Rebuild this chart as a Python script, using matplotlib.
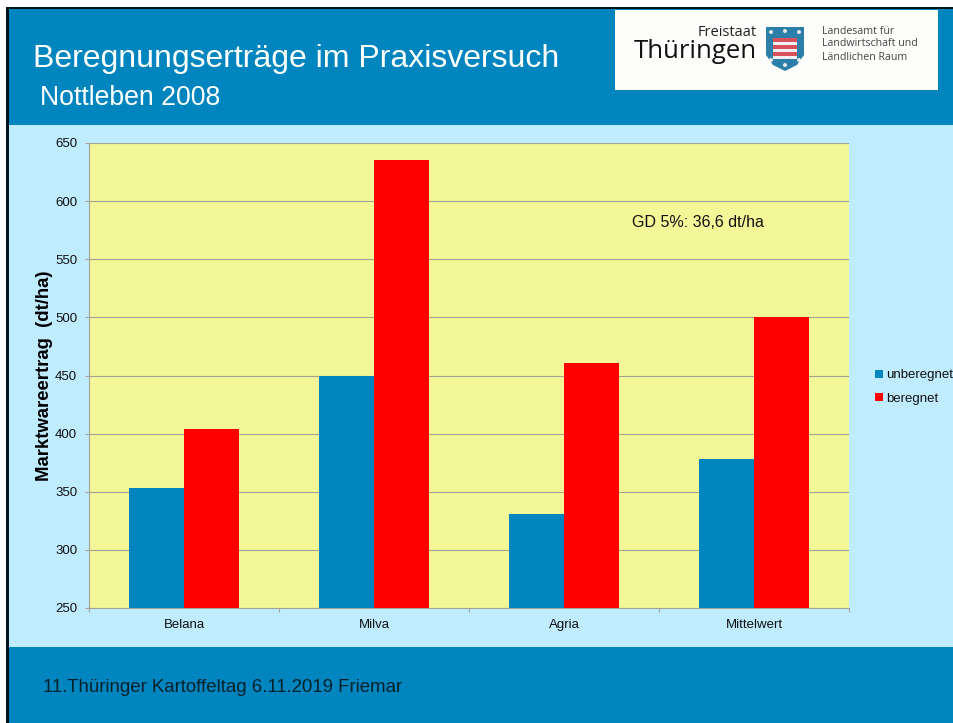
#!/usr/bin/env python3
"""Beregnungsertraege slide: grouped bars on a blue slide background."""

import matplotlib
matplotlib.use("Agg")
import matplotlib.pyplot as plt
from matplotlib.patches import Circle, Polygon, Rectangle

plt.rcParams["font.family"] = ["Liberation Sans", "DejaVu Sans"]
plt.rcParams["ytick.alignment"] = "center_baseline"

# ---------------------------------------------------------------------------
# Data
# ---------------------------------------------------------------------------
CATEGORIES = ["Belana", "Milva", "Agria", "Mittelwert"]
UNBEREGNET = [353, 450, 331, 378]
BEREGNET = [404, 635, 461, 500]
Y_TICKS = [250, 300, 350, 400, 450, 500, 550, 600, 650]

BLUE = "#0085BE"
RED = "#FF0000"
LIGHT = "#C0ECFF"
YELLOW = "#F3F797"
GRID = "#A3A398"
W, H = 954, 723


def draw_logo(bg):
    bg.add_patch(Rectangle((615, 10), 323, 80, fc="#FDFDFB", ec="none"))
    bg.text(757, 32, "Freistaat", color="#222222", fontsize=10.5, ha="right",
            va="center", family="Open Sans")
    bg.text(757, 52, "Thüringen", color="#111111", fontsize=18.5, ha="right",
            va="center", family="Open Sans")
    crest = [(766, 27), (804, 27), (804, 55), (797, 65), (785, 71), (773, 65), (766, 55)]
    bg.add_patch(Polygon(crest, closed=True, fc="#2B7FA8", ec="none"))
    for y0 in (38, 45, 52):
        bg.add_patch(Rectangle((773, y0), 24, 3.5, fc="#D8505A", ec="none"))
        bg.add_patch(Rectangle((773, y0 + 3.5), 24, 3.5, fc="#F0F0F0", ec="none"))
    for cx, cy in [(771, 32), (785, 31), (799, 32), (771, 60), (799, 60), (785, 65)]:
        bg.add_patch(Circle((cx, cy), 2, fc="#E8E8E8", ec="none"))
    for i, line in enumerate(["Landesamt für", "Landwirtschaft und", "Ländlichen Raum"]):
        bg.text(822, 31 + i * 13, line, color="#444444", fontsize=7.7,
                ha="left", va="center", family="Open Sans")


def main():
    fig = plt.figure(figsize=(W / 100, H / 100), dpi=100, facecolor="white")

    # slide background, in pixel coordinates
    bg = fig.add_axes([0, 0, 1, 1])
    bg.set_xlim(0, W)
    bg.set_ylim(H, 0)
    bg.axis("off")
    bg.add_patch(Rectangle((6, 7), W - 6, H - 7, fc="#05141c", ec="none"))
    bg.add_patch(Rectangle((9, 9), W - 9, 116, fc=BLUE, ec="none"))
    bg.add_patch(Rectangle((9, 125), W - 9, 522, fc=LIGHT, ec="none"))
    bg.add_patch(Rectangle((9, 647), W - 9, 76, fc=BLUE, ec="none"))

    bg.text(33, 58.5, "Beregnungserträge im Praxisversuch", color="white",
            fontsize=23, va="center", ha="left")
    bg.text(40, 98, "Nottleben 2008", color="white", fontsize=19.2,
            va="center", ha="left")
    bg.text(43, 688, "11.Thüringer Kartoffeltag 6.11.2019 Friemar",
            color="#06202c", fontsize=13.4, va="center", ha="left")
    draw_logo(bg)

    # chart
    ax = fig.add_axes([89 / W, 1 - 608 / H, 760 / W, 465 / H], facecolor=YELLOW)
    bar_w = 0.287
    xs = range(len(CATEGORIES))
    b1 = ax.bar([x - bar_w / 2 for x in xs], UNBEREGNET, bar_w, color=BLUE,
                label="unberegnet", zorder=3)
    b2 = ax.bar([x + bar_w / 2 for x in xs], BEREGNET, bar_w, color=RED,
                label="beregnet", zorder=3)

    ax.set_xlim(-0.5, len(CATEGORIES) - 0.5)
    ax.set_ylim(Y_TICKS[0], Y_TICKS[-1])
    ax.set_yticks(Y_TICKS)
    ax.set_xticks([x + 0.5 for x in range(-1, len(CATEGORIES))])
    ax.set_xticklabels([])
    ax.set_xticks(list(xs), minor=True)
    ax.set_xticklabels(CATEGORIES, minor=True)
    ax.tick_params(axis="x", which="major", length=3, color=GRID, width=0.8,
                   direction="out")
    ax.tick_params(axis="x", which="minor", length=0, pad=8, labelsize=9.5,
                   labelcolor="#111111")
    ax.tick_params(axis="y", length=3, color=GRID, width=0.8, pad=5.5, labelsize=9.5,
                   labelcolor="#111111")
    ax.grid(axis="y", color=GRID, linewidth=0.8, zorder=1)
    ax.set_axisbelow(True)
    for name, sp in ax.spines.items():
        sp.set_visible(name in ("left", "bottom"))
        sp.set_color(GRID)
        sp.set_linewidth(0.8)

    ax.set_ylabel("Marktwareertrag  (dt/ha)", fontsize=13.3, fontweight="bold",
                  color="black")
    ax.yaxis.set_label_coords((53 - 89) / 760, 0.5)

    ax.text(0.7145, 0.828, "GD 5%: 36,6 dt/ha", transform=ax.transAxes,
            fontsize=11.5, color="#111111", va="center", ha="left", zorder=10)

    fig.legend(handles=[b1, b2], loc="center left",
               bbox_to_anchor=(875 / W, 1 - 387 / H), frameon=False, fontsize=9.5,
               handlelength=0.6, handleheight=0.6, handletextpad=0.25,
               labelspacing=0.85, borderpad=0, borderaxespad=0,
               labelcolor="#111111")

    fig.savefig("out.png", dpi=100, facecolor="white")


if __name__ == "__main__":
    main()
